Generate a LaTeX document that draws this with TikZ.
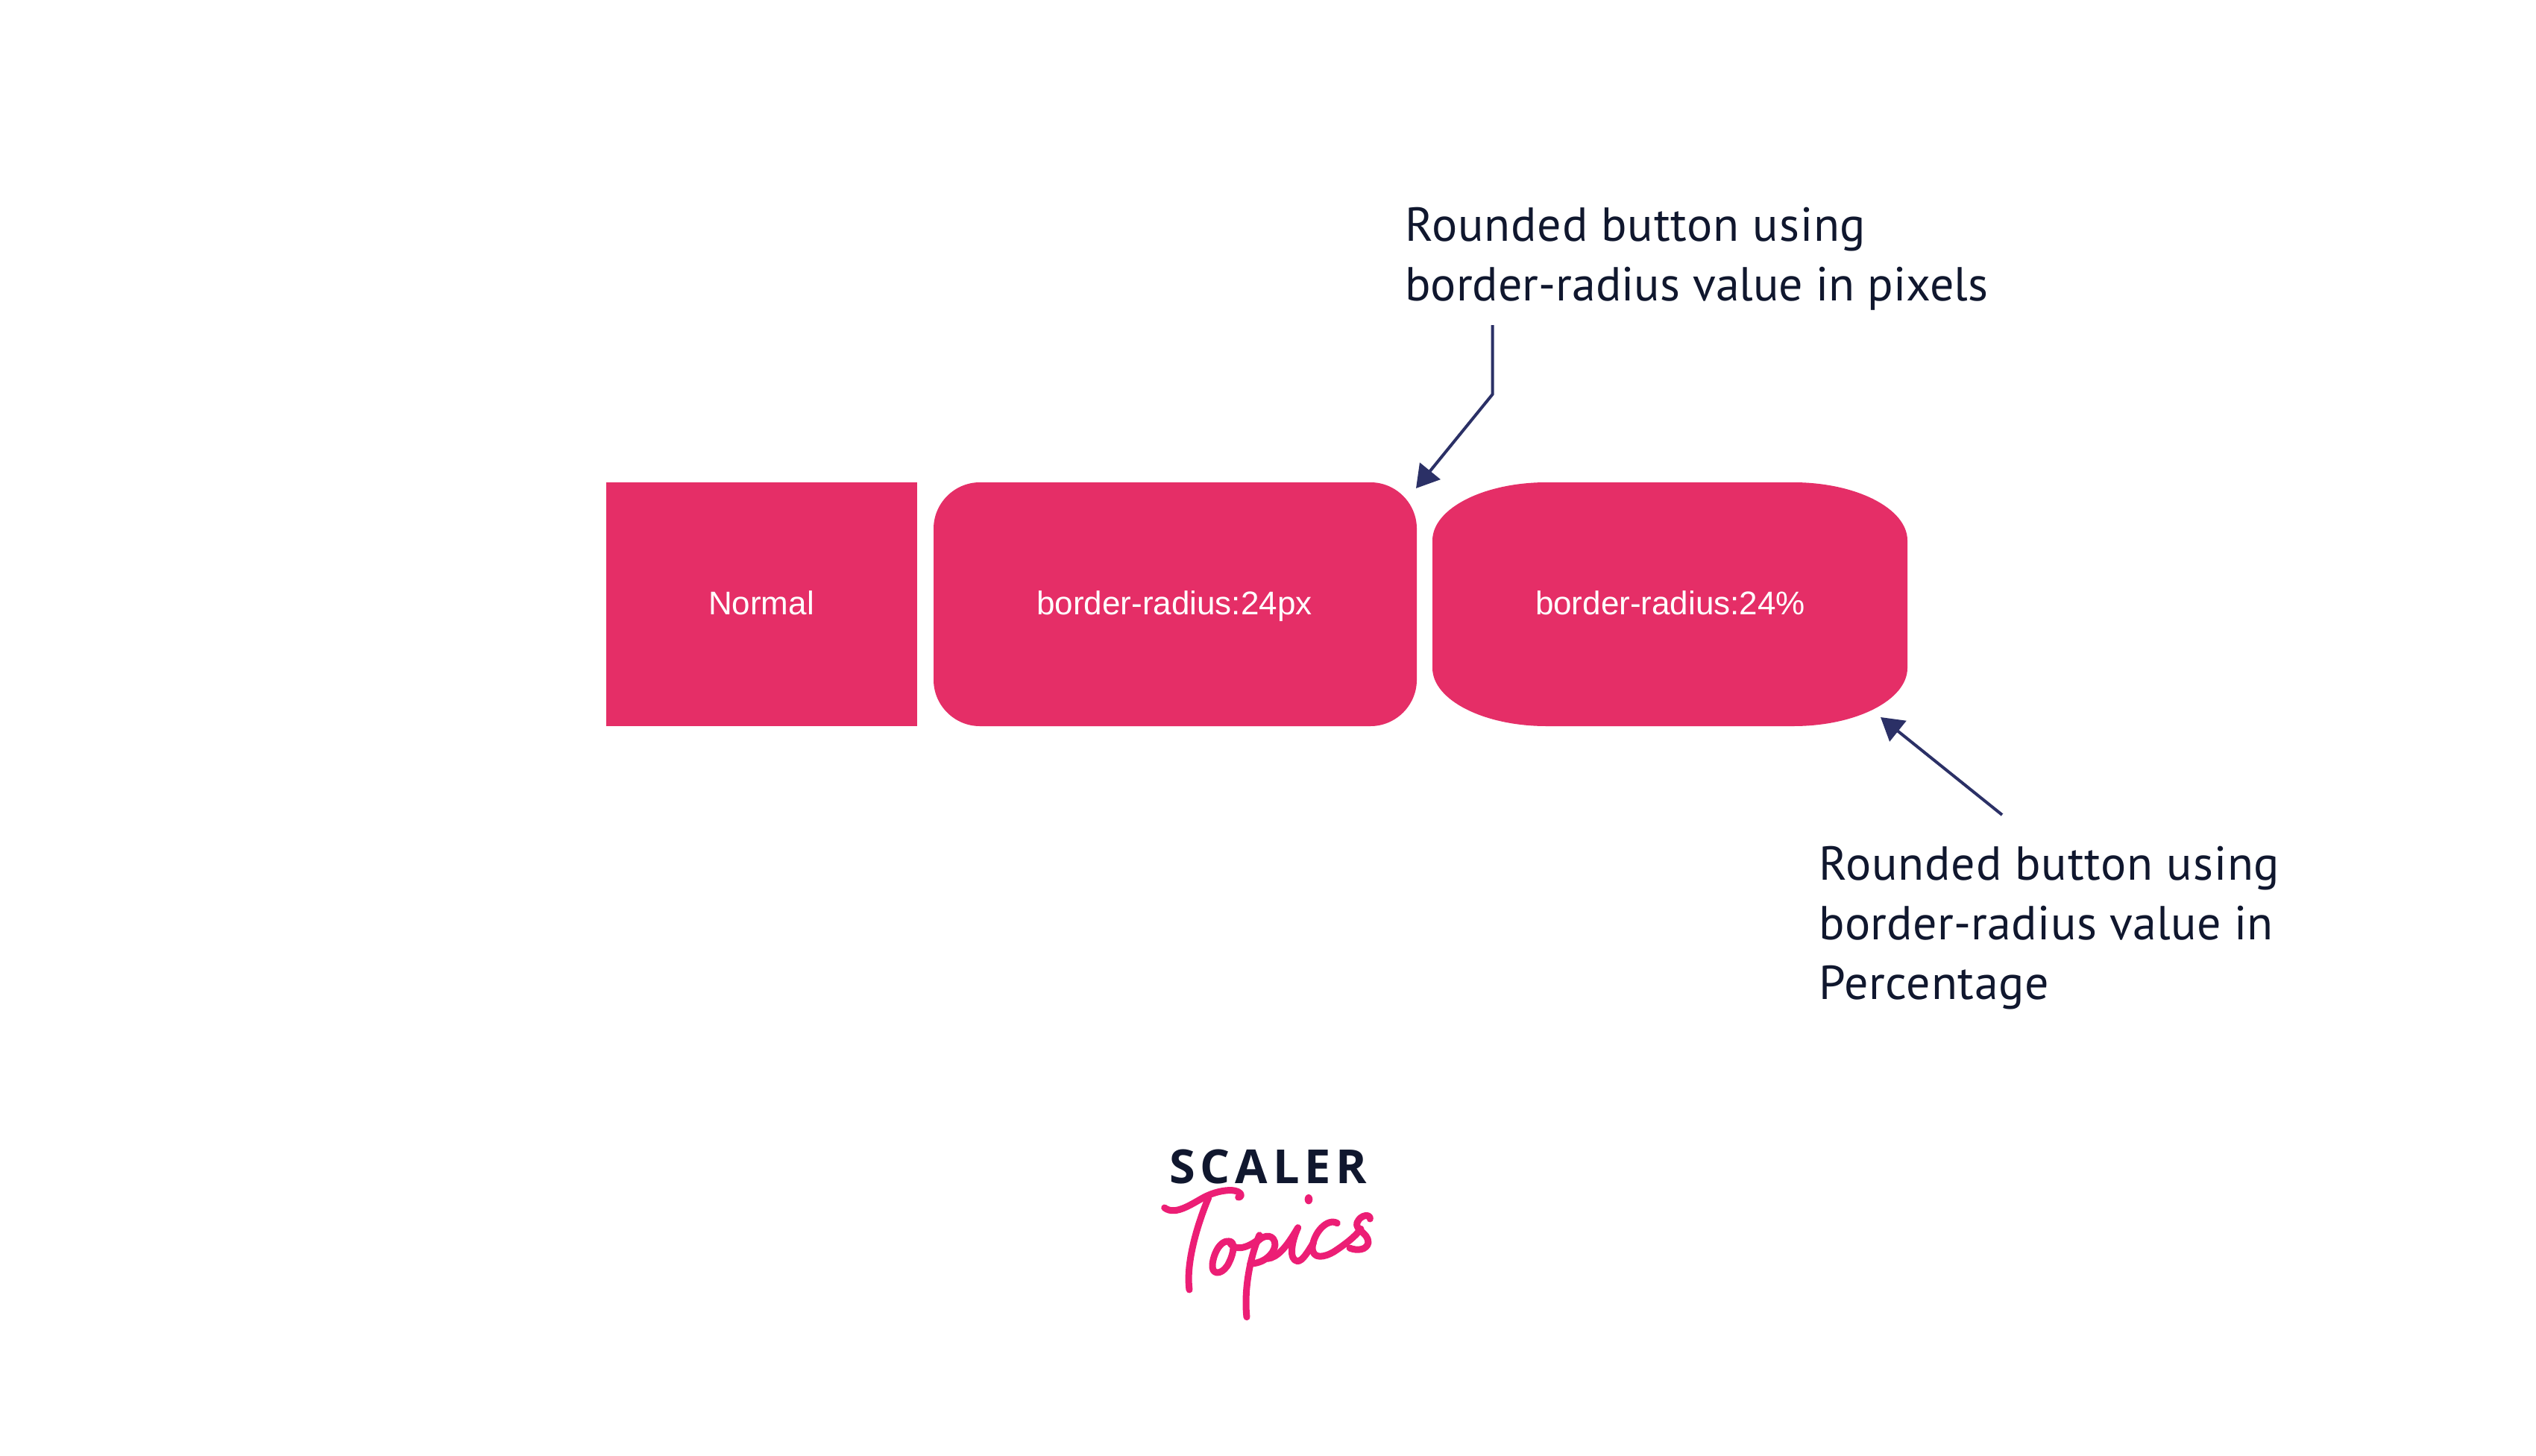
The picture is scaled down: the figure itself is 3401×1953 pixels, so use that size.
\documentclass[tikz,border=0pt]{standalone}
\usepackage{fontspec}
\usetikzlibrary{arrows.meta}
\setmainfont{PT Sans}
\newfontfamily\btnfont{Liberation Sans}
\newfontfamily\logofont[LetterSpace=11]{Open Sans}
\newcommand{\trackA}{\addfontfeature{LetterSpace=1.35}}
\newcommand{\trackB}{\addfontfeature{LetterSpace=0.5}}
\newcommand{\trackC}{\addfontfeature{LetterSpace=1}}
\definecolor{btnpink}{HTML}{E52E67}
\definecolor{inkdark}{HTML}{10172E}
\definecolor{arrownavy}{HTML}{2B3066}
\definecolor{logopink}{HTML}{EC1E75}
\tikzset{
  x=1pt,y=-1pt,
  btnlabel/.style={text=white,font=\btnfont\fontsize{44}{50}\selectfont,inner sep=0pt,anchor=base},
  callout/.style={text=inkdark,font=\fontsize{64}{80}\selectfont,align=left,inner sep=0pt,anchor=north west},
  pointer/.style={draw=arrownavy,line width=4pt,-{Triangle[length=30pt,width=35pt,fill=arrownavy]}},
  script/.style={draw=logopink,line width=9pt,line cap=round,line join=round},
}
\begin{document}
\begin{tikzpicture}
\useasboundingbox (0,0) rectangle (3401,1953);
\fill[white] (0,0) rectangle (3401,1953);
% buttons
\fill[btnpink] (813,647) rectangle (1230,974);
\fill[btnpink] (1252,709) .. controls (1252,675) and (1280,647) .. (1314,647)
 -- (1838,647) .. controls (1872,647) and (1900,675) .. (1900,709)
 -- (1900,912) .. controls (1900,946) and (1872,974) .. (1838,974)
 -- (1314,974) .. controls (1280,974) and (1252,946) .. (1252,912) -- cycle;
\fill[btnpink] (1921,725) .. controls (1921,682) and (1990,647) .. (2074,647)
 -- (2405,647) .. controls (2489,647) and (2558,682) .. (2558,725)
 -- (2558,896) .. controls (2558,939) and (2489,974) .. (2405,974)
 -- (2074,974) .. controls (1990,974) and (1921,939) .. (1921,896) -- cycle;
\node[btnlabel] (normal) at (1021,824) {Normal};
\node[btnlabel] (px) at (1575,824) {border-radius:24px};
\node[btnlabel] (pct) at (2240,824) {border-radius:24\%};
% callouts
\node[callout] (toptext) at (1884,278) {{\trackA Rounded button using}\\border-radius value in pixels};
\node[callout] (bottext) at (2439,1135) {{\trackA Rounded button using}\\{\trackB border-radius value in}\\{\trackC Percentage}};
\coordinate (a1) at (2001.5,436);
\coordinate (a2) at (2001.5,529);
\coordinate (a3) at (1899,655);
\coordinate (b1) at (2685,1093);
\coordinate (b2) at (2522,962);
\draw[pointer] (a1) -- (a2) -- (a3);
\draw[pointer] (b1) -- (b2);
% logo
\node[text=inkdark,font=\logofont\bfseries\fontsize{63}{70}\selectfont,inner sep=0pt,anchor=base west] (scaler) at (1568,1587) {SCALER};
\begin{scope}[shift={(1500,1450)},x=0.3333pt,y=-0.3333pt]
\draw[script] (185,510) .. controls (230,545) and (300,490) .. (350,465) .. controls (400,440) and (470,430) .. (490,452) .. controls (497,462) and (490,468) .. (482,468);
\draw[script] (362,470) .. controls (320,570) and (270,730) .. (285,840);
\draw[script] (445,645) .. controls (400,640) and (375,720) .. (378,750) .. controls (382,785) and (425,775) .. (445,730) .. controls (465,690) and (470,645) .. (445,645) .. controls (465,690) and (520,670) .. (560,640);
\draw[script] (567,620) .. controls (525,720) and (505,850) .. (516,950);
\draw[script] (555,650) .. controls (590,610) and (630,620) .. (630,660) .. controls (625,700) and (580,735) .. (530,735);
\draw[script] (600,715) .. controls (640,710) and (675,670) .. (722,590) .. controls (695,650) and (685,720) .. (720,725) .. controls (740,725) and (760,690) .. (785,650);
\draw[script] (880,572) .. controls (840,550) and (785,610) .. (780,670) .. controls (780,720) and (830,710) .. (870,685) .. controls (900,665) and (950,630) .. (975,595);
\draw[script] (1012,555) .. controls (1015,535) and (975,535) .. (960,570) .. controls (950,600) and (1005,610) .. (1005,650) .. controls (1000,680) and (960,685) .. (930,672);
\fill[logopink] (765,476) ellipse[x radius=16,y radius=20];
\end{scope}
\end{tikzpicture}
\end{document}
